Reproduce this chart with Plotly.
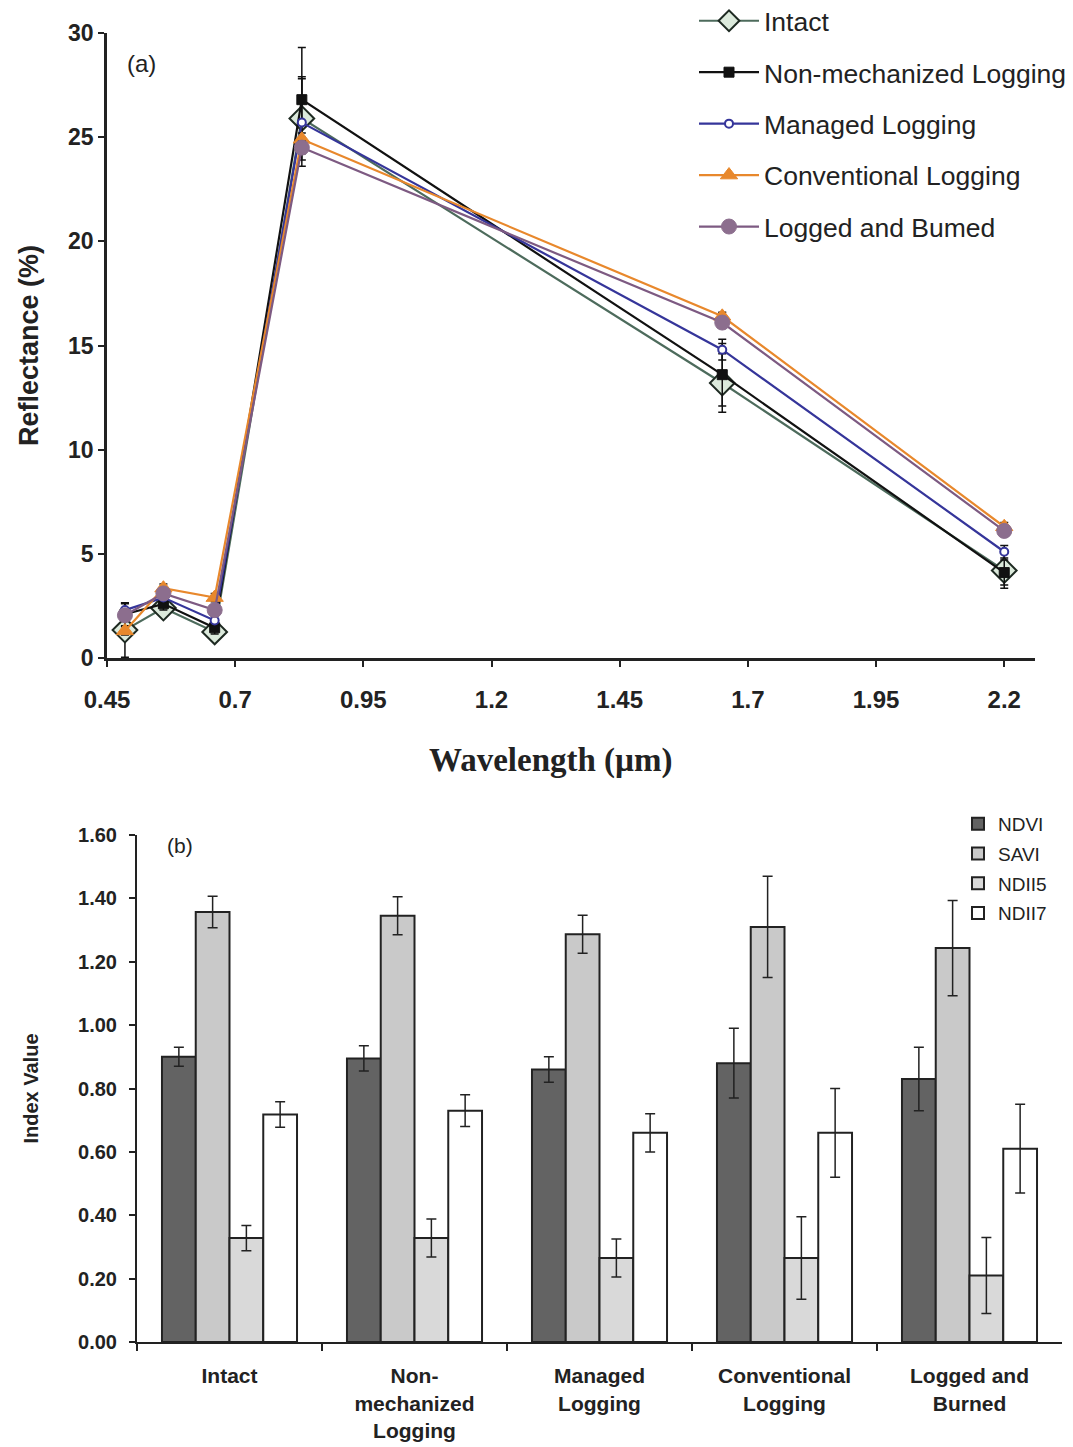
import plotly.graph_objects as go

# ---------------- Data: panel (a) ----------------
wavelength = [0.485, 0.56, 0.66, 0.83, 1.65, 2.2]
series_names = ["Intact", "Non-mechanized Logging", "Managed Logging",
                "Conventional Logging", "Logged and Bumed"]
intact = [1.34, 2.4, 1.25, 25.9, 13.2, 4.2]
intact_err = [1.3, 0.3, 0.3, 2.0, 1.4, 0.85]
nonmech = [2.1, 2.6, 1.45, 26.8, 13.6, 4.1]
nonmech_err = [0.55, 0.3, 0.3, 2.5, 1.5, 0.6]
managed = [2.3, 2.9, 1.8, 25.7, 14.8, 5.1]
managed_err = [0.3, 0.2, 0.2, 2.1, 0.5, 0.3]
conventional = [1.3, 3.35, 2.9, 24.9, 16.4, 6.3]
conventional_err = [0.2, 0.2, 0.2, 0.3, 0.2, 0.2]
burned = [2.05, 3.1, 2.3, 24.5, 16.1, 6.1]
burned_err = [0.2, 0.2, 0.2, 0.3, 0.2, 0.2]
x_ticks_a = [0.45, 0.7, 0.95, 1.2, 1.45, 1.7, 1.95, 2.2]
y_ticks_a = [0, 5, 10, 15, 20, 25, 30]

# ---------------- Data: panel (b) ----------------
categories = ["Intact", "Non-<br>mechanized<br>Logging", "Managed<br>Logging",
              "Conventional<br>Logging", "Logged and<br>Burned"]
ndvi = [0.90, 0.895, 0.86, 0.88, 0.83]
ndvi_err = [0.03, 0.04, 0.04, 0.11, 0.10]
savi = [1.357, 1.345, 1.287, 1.31, 1.243]
savi_err = [0.05, 0.06, 0.06, 0.16, 0.15]
ndii5 = [0.328, 0.328, 0.265, 0.265, 0.21]
ndii5_err = [0.04, 0.06, 0.06, 0.13, 0.12]
ndii7 = [0.718, 0.73, 0.66, 0.66, 0.61]
ndii7_err = [0.04, 0.05, 0.06, 0.14, 0.14]
y_ticks_b = [0.0, 0.2, 0.4, 0.6, 0.8, 1.0, 1.2, 1.4, 1.6]

W, H = 1073, 1447
OFF = 8  # page body margin
SANS = "Liberation Sans, Arial, sans-serif"
SERIF = "Liberation Serif, Times New Roman, serif"

fig = go.Figure()

styles = [
    (intact, intact_err, "#4d6b5c", dict(symbol="diamond", size=19, color="#dceadc",
                                         line=dict(color="#1e2a22", width=2))),
    (nonmech, nonmech_err, "#111111", dict(symbol="square", size=10, color="#111111",
                                           line=dict(color="#111111", width=1))),
    (managed, managed_err, "#35359a", dict(symbol="circle", size=8, color="#ffffff",
                                           line=dict(color="#35359a", width=2))),
    (conventional, conventional_err, "#e8882c", dict(symbol="triangle-up", size=15, color="#e8882c",
                                                     line=dict(color="#e8882c", width=1))),
    (burned, burned_err, "#7d5a82", dict(symbol="circle", size=15, color="#8c6e8e",
                                         line=dict(color="#8c6e8e", width=1))),
]
for i, (name, (vals, errs, col, mk)) in enumerate(zip(series_names, styles)):
    fig.add_trace(go.Scatter(
        x=wavelength, y=vals, name=name, mode="lines+markers",
        line=dict(color=col, width=2.2), marker=mk,
        error_y=dict(type="data", array=errs, visible=True, color="#111111",
                     thickness=1.5, width=4),
        xaxis="x", yaxis="y", legend="legend", legendgroup=f"a{i}",
    ))

# bars
bar_specs = [
    ("NDVI", ndvi, ndvi_err, "#636363"),
    ("SAVI", savi, savi_err, "#c9c9c9"),
    ("NDII5", ndii5, ndii5_err, "#d9d9d9"),
    ("NDII7", ndii7, ndii7_err, "#ffffff"),
]
for i, (name, vals, errs, col) in enumerate(bar_specs):
    fig.add_trace(go.Bar(
        x=categories, y=vals, name=name,
        marker=dict(color=col, line=dict(color="#222222", width=2)),
        error_y=dict(type="data", array=errs, visible=True, color="#222222",
                     thickness=1.5, width=5),
        xaxis="x2", yaxis="y2", legend="legend2", legendgroup=f"b{i}",
    ))

def fx(px):
    return (px - OFF) / W

def fy(py):
    return 1 - (py - OFF) / H

fig.update_layout(
    width=W, height=H,
    margin=dict(l=0, r=0, t=0, b=0, autoexpand=False),
    paper_bgcolor="white", plot_bgcolor="white",
    barmode="group", bargap=0.27, bargroupgap=0,
    font=dict(family=SANS, color="#222222"),
    xaxis=dict(
        domain=[fx(107), fx(1035)], range=[0.45, 2.26], anchor="y", automargin=False,
        tickvals=x_ticks_a, ticktext=[str(v) for v in x_ticks_a],
        ticks="outside", ticklen=6, tickwidth=2, tickcolor="#222222",
        showline=True, linecolor="#222222", linewidth=2.5, showgrid=False, zeroline=False,
        tickfont=dict(size=24, family=SANS, weight="bold", color="#222222"),
        ticklabelstandoff=12,
    ),
    yaxis=dict(
        domain=[fy(658), fy(33)], range=[0, 30], anchor="x", automargin=False,
        tickvals=y_ticks_a, ticks="outside", ticklen=6, tickwidth=2, tickcolor="#222222",
        showline=True, linecolor="#222222", linewidth=2.5, showgrid=False, zeroline=False,
        tickfont=dict(size=23, family=SANS, weight="bold", color="#222222"),
        title=dict(text="Reflectance (%)", font=dict(size=27, family=SANS, weight="bold",
                                                     color="#222222"), standoff=22),
    ),
    xaxis2=dict(
        domain=[fx(137), fx(1062)], anchor="y2", type="category", automargin=False,
        ticks="outside", tickson="boundaries", ticklen=7, tickwidth=1.5, tickcolor="#222222",
        showline=True, linecolor="#222222", linewidth=2, showgrid=False,
        tickfont=dict(size=21, family=SANS, weight="bold", color="#222222"),
        ticklabelstandoff=14,
    ),
    yaxis2=dict(
        domain=[fy(1342), fy(835)], range=[0, 1.6], anchor="x2", automargin=False,
        tickvals=y_ticks_b, ticktext=[f"{v:.2f}" for v in y_ticks_b],
        ticks="outside", ticklen=6, tickwidth=1.5, tickcolor="#222222",
        showline=True, linecolor="#222222", linewidth=2, showgrid=False, zeroline=False,
        tickfont=dict(size=20, family=SANS, weight="bold", color="#222222"),
        ticklabelstandoff=8,
        title=dict(text="Index Value", font=dict(size=20, family=SANS, weight="bold",
                                                 color="#222222"), standoff=34),
    ),
    legend=dict(
        x=fx(694), y=fy(-3), xanchor="left", yanchor="top",
        font=dict(size=26.5, family=SANS, color="#222222"),
        bgcolor="rgba(0,0,0,0)", tracegroupgap=14, itemwidth=60,
    ),
    legend2=dict(
        x=fx(958), y=fy(805), xanchor="left", yanchor="top",
        font=dict(size=19, family=SANS, color="#222222"),
        bgcolor="rgba(0,0,0,0)", tracegroupgap=2, itemwidth=30,
    ),
    annotations=[
        dict(text="(a)", x=fx(125), y=fy(64), xref="paper", yref="paper",
             xanchor="left", yanchor="middle", showarrow=False,
             font=dict(size=24, family=SANS, color="#222222")),
        dict(text="(b)", x=fx(165), y=fy(845), xref="paper", yref="paper",
             xanchor="left", yanchor="middle", showarrow=False,
             font=dict(size=21, family=SANS, color="#222222")),
        dict(text="Wavelength (\u00b5m)", x=fx(551), y=fy(760), xref="paper", yref="paper",
             xanchor="center", yanchor="middle", showarrow=False,
             font=dict(size=33, family=SERIF, weight="bold", color="#222222")),
    ],
)

fig.write_html("out.html")
